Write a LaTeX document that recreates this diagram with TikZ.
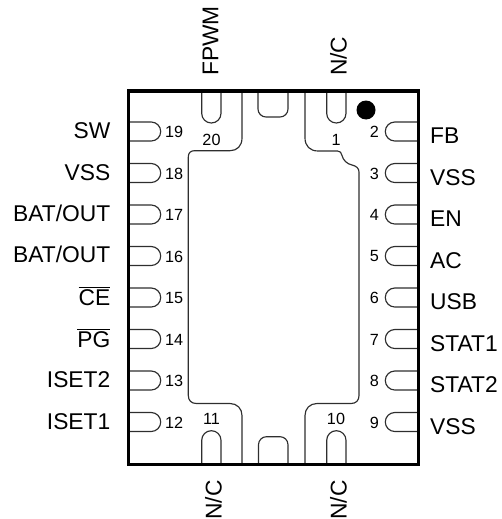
\documentclass[tikz,border=0pt]{standalone}
\usepackage{fontspec}
\setmainfont{Liberation Sans}
\newcommand{\ovl}[1]{$\overline{\mbox{#1}}$}
\tikzset{x=1pt,y=-1pt,
 lab/.style={inner sep=0pt,font=\fontsize{22.8}{25}\selectfont},
 num/.style={inner sep=0pt,font=\fontsize{16.2}{18}\selectfont},
 pinline/.style={line width=1.15pt,black!82},
 pkg/.style={line width=3.3pt,line join=miter}}
\begin{document}
\begin{tikzpicture}
\useasboundingbox (0,0) rectangle (502,519);
% left pins
\foreach \n/\y in {19/131.5,18/173,17/214.5,16/256,15/297.5,14/339,13/380.5,12/422}{
 \draw[pinline,rounded corners=9.5] (129,\y-9.5) -- (160.7,\y-9.5) -- (160.7,\y+9.5) -- (129,\y+9.5);
 \node[num,anchor=west] (L\n) at (164.8,\y+.5) {\n};
}
% right pins
\foreach \n/\y in {2/131.5,3/173,4/214.5,5/256,6/297.5,7/339,8/380.5,9/422}{
 \draw[pinline,rounded corners=9.5] (418,\y-9.5) -- (385.3,\y-9.5) -- (385.3,\y+9.5) -- (418,\y+9.5);
 \node[num,anchor=east] (R\n) at (379,\y+.5) {\n};
}
% top pins
\draw[pinline,rounded corners=9.6] (201.7,91) -- (201.7,123) -- (221,123) -- (221,91);
\draw[pinline,rounded corners=9.6] (326.7,91) -- (326.7,123) -- (346,123) -- (346,91);
\draw[pinline,rounded corners=8] (258,91) -- (258,117) -- (288,117) -- (288,91);
% bottom pins
\draw[pinline,rounded corners=9.6] (201.7,464) -- (201.7,430.7) -- (221,430.7) -- (221,464);
\draw[pinline,rounded corners=9.6] (326.7,464) -- (326.7,430.7) -- (346,430.7) -- (346,464);
\draw[pinline,rounded corners=8] (258.5,464) -- (258.5,436.7) -- (288,436.7) -- (288,464);
% pad
\draw[pinline] (242,91) -- (242,138) .. controls (242,146) and (237,150.7) .. (230,150.7) -- (194.5,150.7) .. controls (190.5,150.7) and (188.3,153) .. (188.3,157) -- (188.3,395.5) .. controls (188.3,400.5) and (191.5,403.5) .. (196.3,403.5) -- (230,403.5) .. controls (237,403.5) and (242,408.5) .. (242,415.5) -- (242,464);
\draw[pinline] (305,464) -- (305,415.5) .. controls (305,408.5) and (310,403.5) .. (317,403.5) -- (351,403.5) .. controls (356,403.5) and (359,400.5) .. (359,395.5) -- (359,172) .. controls (359,168) and (356,166) .. (352,165) .. controls (347,164) and (343,160) .. (342,155.5) .. controls (341.5,152.5) and (340,151) .. (337.5,151) -- (318,151) .. controls (310,151) and (305,146) .. (305,138) -- (305,91);
% package
\draw[pkg] (128.3,91) rectangle (418.7,464.3);
% dot
\fill (366,110) circle (9.5);
% pin numbers top and bottom
\node[num] (T20) at (211.5,139.5) {20};
\node[num] (T1) at (336,139.5) {1};
\node[num] (B11) at (211.5,418.5) {11};
\node[num] (B10) at (336,418.5) {10};
% left labels
\node[lab,anchor=base east] (SW) at (110.5,138) {SW};
\node[lab,anchor=base east] (VSSL) at (110.5,180) {VSS};
\node[lab,anchor=base east] (BAT1) at (110.5,221.5) {BAT/OUT};
\node[lab,anchor=base east] (BAT2) at (110.5,262.5) {BAT/OUT};
\node[lab,anchor=base east] (CE) at (110.5,305) {\ovl{CE}};
\node[lab,anchor=base east] (PG) at (110.5,347) {\ovl{PG}};
\node[lab,anchor=base east] (ISET2) at (110.5,387.5) {ISET2};
\node[lab,anchor=base east] (ISET1) at (110.5,429.5) {ISET1};
% right labels
\node[lab,anchor=base west] (FB) at (430,143) {FB};
\node[lab,anchor=base west] (VSSR) at (430,185) {VSS};
\node[lab,anchor=base west] (EN) at (430,226.7) {EN};
\node[lab,anchor=base west] (AC) at (430,268.3) {AC};
\node[lab,anchor=base west] (USB) at (430,309.3) {USB};
\node[lab,anchor=base west] (STAT1) at (430,351.7) {STAT1};
\node[lab,anchor=base west] (STAT2) at (430,392.7) {STAT2};
\node[lab,anchor=base west] (VSSB) at (430,434.3) {VSS};
% rotated labels
\node[lab,rotate=90,anchor=base west] (FPWM) at (218.3,76) {FPWM};
\node[lab,rotate=90,anchor=base west] (NC1) at (346.7,76) {N/C};
\node[lab,rotate=90,anchor=base east] (NC2) at (221.7,480) {N/C};
\node[lab,rotate=90,anchor=base east] (NC3) at (346.7,480) {N/C};
\end{tikzpicture}
\end{document}
